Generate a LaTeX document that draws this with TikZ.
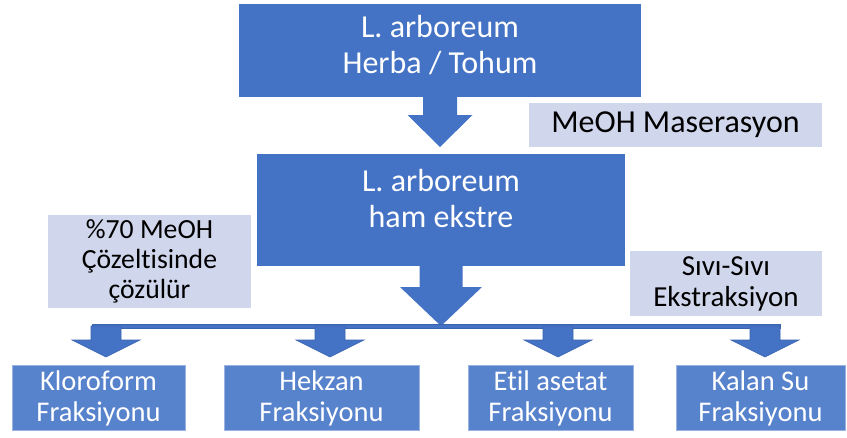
\documentclass[tikz,border=0pt]{standalone}
\usepackage{fontspec}
\setmainfont{Carlito}[Ligatures=NoCommon]
\usetikzlibrary{calc}
\definecolor{bblue}{HTML}{4472C4}
\definecolor{lblue}{HTML}{5782CC}
\definecolor{lbord}{HTML}{9AB3E0}
\definecolor{pale}{HTML}{D0D6EB}
\definecolor{dblue}{HTML}{3A64AE}
\tikzset{
  bigbox/.style={fill=bblue, draw=none, inner sep=0pt},
  bigtext/.style={inner sep=0pt, text=white, align=center, font=\fontsize{32}{36}\selectfont},
  notebox/.style={fill=pale, draw=none, inner sep=0pt, text=black, align=center},
  fracbox/.style={fill=lblue, draw=lbord, line width=1pt, inner sep=0pt, text=white, align=center,
     minimum height=65pt, font=\fontsize{28.5}{31}\selectfont},
  arrfill/.style={fill=bblue, draw=dblue, line width=0.6pt, line join=miter},
}
% #1 options, #2 start point, #3 tip point, #4 shaft half width, #5 head half width, #6 head length
\newcommand\blockarr[6]{%
  \path[#1] let \p1=#2, \p2=#3 in
    (\x2-#4,\y1) -- (\x2+#4,\y1) -- (\x2+#4,\y2+#6) -- (\x2+#5,\y2+#6) -- (\x2,\y2)
    -- (\x2-#5,\y2+#6) -- (\x2-#4,\y2+#6) -- cycle;}
\begin{document}
\begin{tikzpicture}[x=1pt,y=1pt]
\useasboundingbox (0,0) rectangle (847,-437);
% main boxes
\node[bigbox, minimum width=402pt, minimum height=93pt] (top) at (440,-50.5) {};
\node[bigtext] (toptxt) at (440,-45.5) {L. arboreum\\Herba / Tohum};
\node[bigbox, minimum width=368pt, minimum height=112pt] (mid) at (441,-209.5) {};
\node[bigtext] (midtxt) at (441,-199) {L. arboreum\\ham ekstre};
% notes
\node[notebox, minimum width=293pt, minimum height=44pt, font=\fontsize{32}{36}\selectfont]
  (mac) at (675.5,-125) {MeOH Maserasyon};
\node[notebox, minimum width=203pt, minimum height=93pt, font=\fontsize{27.7}{30}\selectfont]
  (sol) at (149.5,-261.5) {\%70 MeOH\\Çözeltisinde\\çözülür};
\node[notebox, minimum width=192pt, minimum height=65pt, font=\fontsize{29}{31}\selectfont]
  (sivi) at (726,-283.5) {Sıvı-Sıvı\\Ekstraksiyon};
% fraction boxes
\node[fracbox, minimum width=173pt] (klo) at (98.5,-398) {Kloroform\\Fraksiyonu};
\node[fracbox, minimum width=195pt] (hek) at (321.5,-398) {Hekzan\\Fraksiyonu};
\node[fracbox, minimum width=165pt] (eti) at (550.5,-398) {Etil asetat\\Fraksiyonu};
\node[fracbox, minimum width=169pt] (kal) at (760.5,-398) {Kalan Su\\Fraksiyonu};
% coordinates
\coordinate (t1) at (440,-147);
\coordinate (t2) at (441,-326);
\coordinate (lineL) at (92,-324);
\coordinate (lineR) at (780,-328);
\coordinate (s1) at (106,-326);
\coordinate (s2) at (330,-326);
\coordinate (s3) at (558,-326);
\coordinate (s4) at (765,-326);
% big arrows
\blockarr{fill=bblue}{(top.south)}{(t1)}{17}{32.5}{32}
\blockarr{fill=bblue}{(mid.south)}{(t2)}{21.5}{41}{39}
% distribution bar
\draw[arrfill] (lineL) rectangle (lineR);
% small arrows to fractions
\blockarr{arrfill}{(s1)}{($(s1|-klo.north)+(0,8)$)}{15}{34}{17}
\blockarr{arrfill}{(s2)}{($(s2|-hek.north)+(0,8)$)}{15}{34}{17}
\blockarr{arrfill}{(s3)}{($(s3|-eti.north)+(0,8)$)}{15}{34}{17}
\blockarr{arrfill}{(s4)}{($(s4|-kal.north)+(0,8)$)}{15}{34}{17}
\end{tikzpicture}
\end{document}
